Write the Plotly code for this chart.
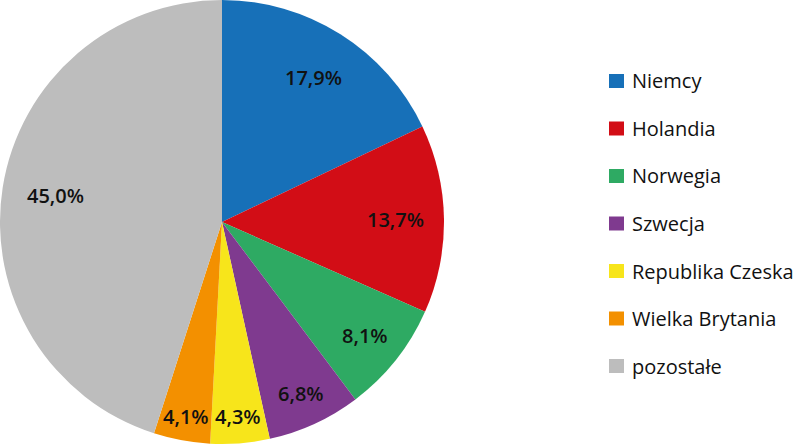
import math
import plotly.graph_objects as go

labels = ["Niemcy", "Holandia", "Norwegia", "Szwecja", "Republika Czeska", "Wielka Brytania", "pozostałe"]
values = [17.9, 13.7, 8.1, 6.8, 4.3, 4.1, 45.0]
colors = ["#1770B8", "#D20D16", "#2EAA63", "#7F3A8F", "#F7E51B", "#F39000", "#BDBDBD"]

W, H = 800, 448
CX, CY, R = 222, 222, 222          # pie centre / radius in pixels
label_radius = [0.77, 0.78, 0.82, 0.85, 0.88, 0.89, 0.76]  # label distance as fraction of radius

fig = go.Figure()
fig.add_trace(go.Pie(
    labels=labels,
    values=values,
    sort=False,
    direction="clockwise",
    rotation=0,
    marker=dict(colors=colors, line=dict(width=0)),
    textinfo="none",
    domain=dict(x=[0, 444 / W], y=[4 / H, 1]),
    showlegend=False,
    hoverinfo="label+value",
))

# slice labels, placed at each slice's mid-angle
total = sum(values)
cum = 0.0
for v, fr in zip(values, label_radius):
    mid = (cum + v / 2) / total * 2 * math.pi
    cum += v
    px = CX + fr * R * math.sin(mid)
    py = CY - fr * R * math.cos(mid)
    fig.add_annotation(xref="paper", yref="paper", x=px / W, y=1 - py / H,
                       text=f"{v:.1f}%".replace(".", ","), showarrow=False,
                       xanchor="center", yanchor="middle",
                       font=dict(family="Open Sans", size=20, color="#111111", weight=600))

# legend drawn as shapes + annotations
y0 = 81
step = 47.5
for i, (lab, col) in enumerate(zip(labels, colors)):
    yc = y0 + i * step
    fig.add_shape(type="rect", xref="paper", yref="paper",
                  x0=609 / W, x1=624 / W,
                  y0=1 - (yc + 7) / H, y1=1 - (yc - 7) / H,
                  fillcolor=col, line=dict(width=0))
    fig.add_annotation(xref="paper", yref="paper", x=630 / W, y=1 - yc / H,
                       text=lab, showarrow=False, xanchor="left", yanchor="middle",
                       font=dict(family="Open Sans", size=20, color="#111111"))

fig.update_layout(
    width=W, height=H,
    margin=dict(l=0, r=0, t=0, b=0),
    paper_bgcolor="white",
    plot_bgcolor="white",
    separators=", ",
)

fig.write_html("out.html")
